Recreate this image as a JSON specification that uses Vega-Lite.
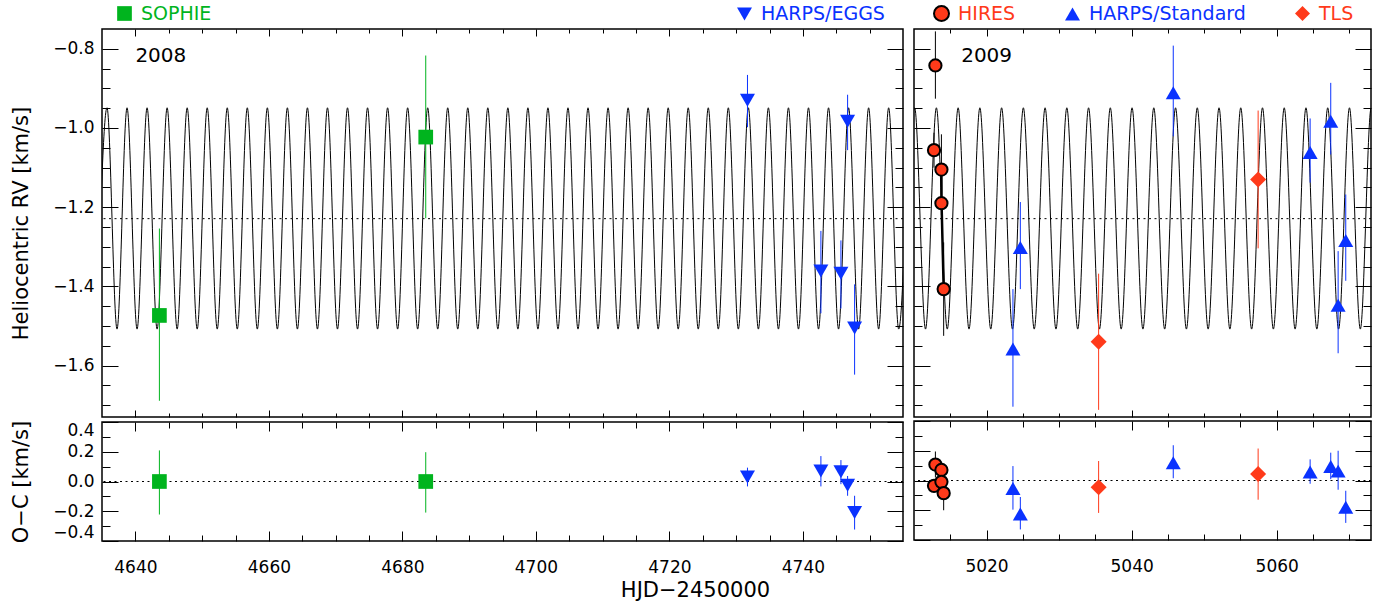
{
  "$schema": "https://vega.github.io/schema/vega-lite/v6.json",
  "background": "white",
  "padding": {"left": 9, "top": 4, "right": 10, "bottom": 4},
  "autosize": {"type": "pad"},
  "datasets": {
    "m08": [
      {"t":4634.249,"rv":-1.508},{"t":4635.750,"rv":-0.949},{"t":4637.251,"rv":-1.508},{"t":4638.753,"rv":-0.949},
      {"t":4640.254,"rv":-1.508},{"t":4641.755,"rv":-0.949},{"t":4643.256,"rv":-1.508},{"t":4644.758,"rv":-0.949},
      {"t":4646.259,"rv":-1.508},{"t":4647.760,"rv":-0.949},{"t":4649.262,"rv":-1.508},{"t":4650.763,"rv":-0.949},
      {"t":4652.264,"rv":-1.508},{"t":4653.766,"rv":-0.949},{"t":4655.267,"rv":-1.508},{"t":4656.768,"rv":-0.949},
      {"t":4658.269,"rv":-1.508},{"t":4659.771,"rv":-0.949},{"t":4661.272,"rv":-1.508},{"t":4662.773,"rv":-0.949},
      {"t":4664.275,"rv":-1.508},{"t":4665.776,"rv":-0.949},{"t":4667.277,"rv":-1.508},{"t":4668.779,"rv":-0.949},
      {"t":4670.280,"rv":-1.508},{"t":4671.781,"rv":-0.949},{"t":4673.282,"rv":-1.508},{"t":4674.784,"rv":-0.949},
      {"t":4676.285,"rv":-1.508},{"t":4677.786,"rv":-0.949},{"t":4679.288,"rv":-1.508},{"t":4680.789,"rv":-0.949},
      {"t":4682.290,"rv":-1.508},{"t":4683.792,"rv":-0.949},{"t":4685.293,"rv":-1.508},{"t":4686.794,"rv":-0.949},
      {"t":4688.295,"rv":-1.508},{"t":4689.797,"rv":-0.949},{"t":4691.298,"rv":-1.508},{"t":4692.799,"rv":-0.949},
      {"t":4694.301,"rv":-1.508},{"t":4695.802,"rv":-0.949},{"t":4697.303,"rv":-1.508},{"t":4698.805,"rv":-0.949},
      {"t":4700.306,"rv":-1.508},{"t":4701.807,"rv":-0.949},{"t":4703.308,"rv":-1.508},{"t":4704.810,"rv":-0.949},
      {"t":4706.311,"rv":-1.508},{"t":4707.812,"rv":-0.949},{"t":4709.314,"rv":-1.508},{"t":4710.815,"rv":-0.949},
      {"t":4712.316,"rv":-1.508},{"t":4713.818,"rv":-0.949},{"t":4715.319,"rv":-1.508},{"t":4716.820,"rv":-0.949},
      {"t":4718.321,"rv":-1.508},{"t":4719.823,"rv":-0.949},{"t":4721.324,"rv":-1.508},{"t":4722.825,"rv":-0.949},
      {"t":4724.327,"rv":-1.508},{"t":4725.828,"rv":-0.949},{"t":4727.329,"rv":-1.508},{"t":4728.831,"rv":-0.949},
      {"t":4730.332,"rv":-1.508},{"t":4731.833,"rv":-0.949},{"t":4733.334,"rv":-1.508},{"t":4734.836,"rv":-0.949},
      {"t":4736.337,"rv":-1.508},{"t":4737.838,"rv":-0.949},{"t":4739.340,"rv":-1.508},{"t":4740.841,"rv":-0.949},
      {"t":4742.342,"rv":-1.508},{"t":4743.844,"rv":-0.949},{"t":4745.345,"rv":-1.508},{"t":4746.846,"rv":-0.949},
      {"t":4748.347,"rv":-1.508},{"t":4749.849,"rv":-0.949},{"t":4751.350,"rv":-1.508},{"t":4752.851,"rv":-0.949},
      {"t":4754.352,"rv":-1.508},{"t":4755.854,"rv":-0.949}
    ],
    "m09": [
      {"t":5008.592,"rv":-1.508},{"t":5010.090,"rv":-0.949},{"t":5011.589,"rv":-1.508},{"t":5013.087,"rv":-0.949},
      {"t":5014.586,"rv":-1.508},{"t":5016.084,"rv":-0.949},{"t":5017.583,"rv":-1.508},{"t":5019.081,"rv":-0.949},
      {"t":5020.580,"rv":-1.508},{"t":5022.078,"rv":-0.949},{"t":5023.577,"rv":-1.508},{"t":5025.075,"rv":-0.949},
      {"t":5026.574,"rv":-1.508},{"t":5028.072,"rv":-0.949},{"t":5029.571,"rv":-1.508},{"t":5031.069,"rv":-0.949},
      {"t":5032.568,"rv":-1.508},{"t":5034.066,"rv":-0.949},{"t":5035.565,"rv":-1.508},{"t":5037.063,"rv":-0.949},
      {"t":5038.562,"rv":-1.508},{"t":5040.060,"rv":-0.949},{"t":5041.559,"rv":-1.508},{"t":5043.057,"rv":-0.949},
      {"t":5044.556,"rv":-1.508},{"t":5046.054,"rv":-0.949},{"t":5047.553,"rv":-1.508},{"t":5049.051,"rv":-0.949},
      {"t":5050.550,"rv":-1.508},{"t":5052.048,"rv":-0.949},{"t":5053.547,"rv":-1.508},{"t":5055.045,"rv":-0.949},
      {"t":5056.544,"rv":-1.508},{"t":5058.042,"rv":-0.949},{"t":5059.541,"rv":-1.508},{"t":5061.039,"rv":-0.949},
      {"t":5062.538,"rv":-1.508},{"t":5064.036,"rv":-0.949},{"t":5065.535,"rv":-1.508},{"t":5067.033,"rv":-0.949},
      {"t":5068.532,"rv":-1.508},{"t":5070.030,"rv":-0.949},{"t":5071.529,"rv":-1.508},{"t":5073.027,"rv":-0.949},
      {"t":5074.526,"rv":-1.508}
    ],
    "rm": [
      {"t":5013.78,"rv":-1.105},{"t":5013.80,"rv":-1.190},{"t":5014.09,"rv":-1.407}
    ],
    "o08": [
      {"t":4643.6,"rv":-1.4735,"rv_lo":-1.689,"rv_hi":-1.254,"oc":0.0,"oc_lo":-0.222,"oc_hi":0.209,"inst":"SOPHIE"},
      {"t":4683.5,"rv":-1.023,"rv_lo":-1.228,"rv_hi":-0.817,"oc":0.0,"oc_lo":-0.209,"oc_hi":0.197,"inst":"SOPHIE"},
      {"t":4731.7,"rv":-0.930,"rv_lo":-0.998,"rv_hi":-0.866,"oc":0.03,"oc_lo":-0.033,"oc_hi":0.093,"inst":"HARPS/EGGS"},
      {"t":4742.7,"rv":-1.361,"rv_lo":-1.468,"rv_hi":-1.260,"oc":0.07,"oc_lo":-0.033,"oc_hi":0.171,"inst":"HARPS/EGGS"},
      {"t":4745.7,"rv":-1.367,"rv_lo":-1.456,"rv_hi":-1.284,"oc":0.065,"oc_lo":-0.018,"oc_hi":0.144,"inst":"HARPS/EGGS"},
      {"t":4746.7,"rv":-0.983,"rv_lo":-1.056,"rv_hi":-0.916,"oc":-0.025,"oc_lo":-0.096,"oc_hi":0.037,"inst":"HARPS/EGGS"},
      {"t":4747.75,"rv":-1.505,"rv_lo":-1.623,"rv_hi":-1.395,"oc":-0.208,"oc_lo":-0.323,"oc_hi":-0.096,"inst":"HARPS/EGGS"}
    ],
    "o09": [
      {"t":5012.95,"rv":-0.842,"rv_lo":-0.926,"rv_hi":-0.756,"oc":0.107,"oc_lo":0.02,"oc_hi":0.195,"inst":"HIRES"},
      {"t":5012.76,"rv":-1.056,"rv_lo":-1.10,"rv_hi":-1.012,"oc":-0.036,"oc_lo":-0.07,"oc_hi":0.0,"inst":"HIRES"},
      {"t":5013.78,"rv":-1.105,"rv_lo":-1.15,"rv_hi":-1.016,"oc":0.071,"oc_lo":0.03,"oc_hi":0.11,"inst":"HIRES"},
      {"t":5013.78,"rv":-1.190,"rv_lo":-1.22,"rv_hi":-1.16,"oc":-0.009,"oc_lo":-0.04,"oc_hi":0.02,"inst":"HIRES"},
      {"t":5014.09,"rv":-1.407,"rv_lo":-1.525,"rv_hi":-1.289,"oc":-0.085,"oc_lo":-0.2,"oc_hi":0.03,"inst":"HIRES"},
      {"t":5023.64,"rv":-1.558,"rv_lo":-1.704,"rv_hi":-1.407,"oc":-0.053,"oc_lo":-0.196,"oc_hi":0.097,"inst":"HARPS/Standard"},
      {"t":5024.66,"rv":-1.302,"rv_lo":-1.407,"rv_hi":-1.187,"oc":-0.225,"oc_lo":-0.329,"oc_hi":-0.111,"inst":"HARPS/Standard"},
      {"t":5045.74,"rv":-0.911,"rv_lo":-1.021,"rv_hi":-0.792,"oc":0.12,"oc_lo":0.015,"oc_hi":0.237,"inst":"HARPS/Standard"},
      {"t":5064.61,"rv":-1.062,"rv_lo":-1.138,"rv_hi":-0.976,"oc":0.057,"oc_lo":-0.022,"oc_hi":0.142,"inst":"HARPS/Standard"},
      {"t":5067.45,"rv":-0.983,"rv_lo":-1.067,"rv_hi":-0.886,"oc":0.094,"oc_lo":0.009,"oc_hi":0.187,"inst":"HARPS/Standard"},
      {"t":5068.47,"rv":-1.448,"rv_lo":-1.569,"rv_hi":-1.311,"oc":0.063,"oc_lo":-0.062,"oc_hi":0.2,"inst":"HARPS/Standard"},
      {"t":5069.52,"rv":-1.284,"rv_lo":-1.386,"rv_hi":-1.168,"oc":-0.18,"oc_lo":-0.285,"oc_hi":-0.069,"inst":"HARPS/Standard"},
      {"t":5035.45,"rv":-1.540,"rv_lo":-1.712,"rv_hi":-1.368,"oc":-0.045,"oc_lo":-0.218,"oc_hi":0.131,"inst":"TLS"},
      {"t":5057.44,"rv":-1.130,"rv_lo":-1.304,"rv_hi":-0.956,"oc":0.043,"oc_lo":-0.129,"oc_hi":0.215,"inst":"TLS"}
    ]
  },
  "hconcat": [
    {
      "spacing": 0,
      "vconcat": [
        {
          "width": 801, "height": 388,
          "resolve": {"axis": {"x": "independent", "y": "independent"}},
          "layer": [
            {
              "data": {"name": "m08"},
              "mark": {"type": "line", "interpolate": "monotone", "color": "black", "strokeWidth": 1, "clip": true},
              "encoding": {
                "x": {"field": "t", "type": "quantitative", "scale": {"domain": [4635, 4755], "nice": false, "zero": false},
                      "axis": {"orient": "bottom", "values": [4640,4645,4650,4655,4660,4665,4670,4675,4680,4685,4690,4695,4700,4705,4710,4715,4720,4725,4730,4735,4740,4745,4750],
                               "tickSize": {"condition": {"test": "datum.value % 20 === 0", "value": -7}, "value": -4}, "labels": false, "title": null}},
                "y": {"field": "rv", "type": "quantitative", "scale": {"domain": [-1.73, -0.75], "nice": false, "zero": false},
                      "axis": {"orient": "left", "values": [-1.7,-1.65,-1.6,-1.55,-1.5,-1.45,-1.4,-1.35,-1.3,-1.25,-1.2,-1.15,-1.1,-1.05,-1.0,-0.95,-0.9,-0.85,-0.8],
                               "tickSize": {"condition": {"test": "abs(round(datum.value*20)) % 4 === 0", "value": -16}, "value": -8},
                               "format": ".1f", "labelExpr": "abs(round(datum.value*20)) % 4 === 0 ? datum.label : ''",
                               "labelPadding": 24, "labelFlush": false,
                               "title": "Heliocentric RV [km/s]", "titleX": -81, "titleY": 194, "titleAlign": "center", "titleBaseline": "middle"}}
              }
            },
            {
              "data": {"values": [{}]},
              "mark": {"type": "rule", "strokeDash": [2, 3.5], "color": "black", "strokeWidth": 1},
              "encoding": {"y": {"datum": -1.229, "type": "quantitative", "scale": {"domain": [-1.73, -0.75], "nice": false, "zero": false}, "axis": null}}
            },
            {
              "data": {"name": "o08"},
              "mark": {"type": "rule", "strokeWidth": 1},
              "encoding": {
                "x": {"field": "t", "type": "quantitative", "scale": {"domain": [4635, 4755], "nice": false, "zero": false},
                      "axis": {"orient": "top", "values": [4640,4645,4650,4655,4660,4665,4670,4675,4680,4685,4690,4695,4700,4705,4710,4715,4720,4725,4730,4735,4740,4745,4750],
                               "tickSize": {"condition": {"test": "datum.value % 20 === 0", "value": -7}, "value": -4}, "labels": false, "title": null}},
                "y": {"field": "rv_lo", "type": "quantitative", "scale": {"domain": [-1.73, -0.75], "nice": false, "zero": false},
                      "axis": {"orient": "right", "values": [-1.7,-1.65,-1.6,-1.55,-1.5,-1.45,-1.4,-1.35,-1.3,-1.25,-1.2,-1.15,-1.1,-1.05,-1.0,-0.95,-0.9,-0.85,-0.8],
                               "tickSize": {"condition": {"test": "abs(round(datum.value*20)) % 4 === 0", "value": -16}, "value": -8}, "labels": false, "title": null}},
                "y2": {"field": "rv_hi"},
                "stroke": {"field": "inst", "type": "nominal", "scale": {"domain": ["TLS","SOPHIE","HARPS/EGGS","HIRES","HARPS/Standard"], "range": ["#ff3a1a","#00b41e","#0a32ff","#000000","#0a32ff"]}, "legend": null}
              }
            },
            {
              "data": {"name": "o08"},
              "transform": [{"filter": "datum.inst !== 'HIRES'"}],
              "mark": {"type": "point", "filled": true, "opacity": 1},
              "encoding": {
                "x": {"field": "t", "type": "quantitative", "scale": {"domain": [4635, 4755], "nice": false, "zero": false}, "axis": null},
                "y": {"field": "rv", "type": "quantitative", "scale": {"domain": [-1.73, -0.75], "nice": false, "zero": false}, "axis": null},
                "color": {"field": "inst", "type": "nominal", "scale": {"domain": ["SOPHIE","HARPS/EGGS","HIRES","HARPS/Standard","TLS"], "range": ["#00b41e","#0a32ff","#ff3a1a","#0a32ff","#ff3a1a"]},
                          "legend": {"orient": "none", "legendX": 633, "legendY": -25, "direction": "horizontal", "title": null,
                                     "values": ["HARPS/EGGS","HIRES","HARPS/Standard","TLS"], "symbolSize": 225, "symbolOpacity": 1, "symbolStrokeWidth": 2,
                                     "symbolFillColor": {"expr": "(datum.value === 'HIRES' || datum.value === 'TLS') ? '#ff3a1a' : '#0a32ff'"},
                                     "symbolStrokeColor": {"expr": "datum.value === 'HIRES' ? '#000000' : 'transparent'"},
                                     "labelOffset": 7, "columnPadding": 45, "labelFont": "DejaVu Sans", "labelFontSize": 19,
                                     "labelColor": {"expr": "(datum.value === 'HIRES' || datum.value === 'TLS') ? '#ff3a1a' : '#0a32ff'"}}},
                "fill": {"field": "inst", "type": "nominal", "scale": {"domain": ["HIRES","SOPHIE","HARPS/EGGS","HARPS/Standard","TLS"], "range": ["#ff3a1a","#00b41e","#0a32ff","#0a32ff","#ff3a1a"]},
                         "legend": {"orient": "none", "legendX": 13, "legendY": -25, "direction": "horizontal", "title": null,
                                    "values": ["SOPHIE"], "symbolType": "square", "symbolSize": 216, "symbolStrokeWidth": 0, "symbolOpacity": 1,
                                    "labelOffset": 7, "labelFont": "DejaVu Sans", "labelFontSize": 19, "labelColor": "#00b41e"}},
                "shape": {"field": "inst", "type": "nominal", "scale": {"domain": ["SOPHIE","HARPS/EGGS","HIRES","HARPS/Standard","TLS"], "range": ["square","triangle-down","circle","triangle-up","diamond"]},
                          "legend": {"orient": "none", "legendX": 633, "legendY": -25, "direction": "horizontal", "title": null,
                                     "values": ["HARPS/EGGS","HIRES","HARPS/Standard","TLS"], "symbolSize": 225, "symbolOpacity": 1, "symbolStrokeWidth": 2,
                                     "symbolFillColor": {"expr": "(datum.value === 'HIRES' || datum.value === 'TLS') ? '#ff3a1a' : '#0a32ff'"},
                                     "symbolStrokeColor": {"expr": "datum.value === 'HIRES' ? '#000000' : 'transparent'"},
                                     "labelOffset": 7, "columnPadding": 45, "labelFont": "DejaVu Sans", "labelFontSize": 19,
                                     "labelColor": {"expr": "(datum.value === 'HIRES' || datum.value === 'TLS') ? '#ff3a1a' : '#0a32ff'"}}},
                "size": {"condition": [{"test": "datum.inst === 'TLS'", "value": 256}, {"test": "datum.inst === 'SOPHIE'", "value": 216}], "value": 225}
              }
            },
            {
              "data": {"values": [{"t": 4640, "rv": -0.833, "label": "2008"}]},
              "mark": {"type": "text", "align": "left", "baseline": "alphabetic", "fontSize": 20, "font": "DejaVu Sans", "color": "black"},
              "encoding": {
                "x": {"field": "t", "type": "quantitative", "scale": {"domain": [4635, 4755], "nice": false, "zero": false}, "axis": null},
                "y": {"field": "rv", "type": "quantitative", "scale": {"domain": [-1.73, -0.75], "nice": false, "zero": false}, "axis": null},
                "text": {"field": "label"}
              }
            }
          ]
        },
        {
          "width": 801, "height": 119,
          "resolve": {"axis": {"x": "independent", "y": "independent"}},
          "layer": [
            {
              "data": {"values": [{}]},
              "mark": {"type": "rule", "strokeDash": [2, 3.5], "color": "black", "strokeWidth": 1},
              "encoding": {"y": {"datum": 0, "type": "quantitative", "scale": {"domain": [-0.4, 0.4], "nice": false, "zero": false},
                      "axis": {"orient": "left", "values": [-0.4,-0.3,-0.2,-0.1,0,0.1,0.2,0.3,0.4],
                               "tickSize": {"condition": {"test": "abs(round(datum.value*10)) % 2 === 0", "value": -16}, "value": -8},
                               "format": ".1f", "labelExpr": "abs(round(datum.value*10)) % 2 === 0 ? datum.label : ''",
                               "labelPadding": 24, "labelFlush": true,
                               "title": "O−C [km/s]", "titleX": -81, "titleY": 59.5, "titleAlign": "center", "titleBaseline": "middle"}}}
            },
            {
              "data": {"name": "o08"},
              "mark": {"type": "rule", "strokeWidth": 1},
              "encoding": {
                "x": {"field": "t", "type": "quantitative", "scale": {"domain": [4635, 4755], "nice": false, "zero": false},
                      "axis": {"orient": "bottom", "values": [4640,4645,4650,4655,4660,4665,4670,4675,4680,4685,4690,4695,4700,4705,4710,4715,4720,4725,4730,4735,4740,4745,4750],
                               "tickSize": {"condition": {"test": "datum.value % 20 === 0", "value": -10}, "value": -6},
                               "format": "d", "labelExpr": "datum.value % 20 === 0 ? datum.label : ''", "labelPadding": 28, "labelFlush": false,
                               "title": "HJD−2450000", "titleX": 593, "titleY": 55, "titleAlign": "center", "titleBaseline": "alphabetic"}},
                "y": {"field": "oc_lo", "type": "quantitative", "scale": {"domain": [-0.4, 0.4], "nice": false, "zero": false},
                      "axis": {"orient": "right", "values": [-0.4,-0.3,-0.2,-0.1,0,0.1,0.2,0.3,0.4],
                               "tickSize": {"condition": {"test": "abs(round(datum.value*10)) % 2 === 0", "value": -16}, "value": -8}, "labels": false, "title": null}},
                "y2": {"field": "oc_hi"},
                "stroke": {"field": "inst", "type": "nominal", "scale": {"domain": ["TLS","SOPHIE","HARPS/EGGS","HIRES","HARPS/Standard"], "range": ["#ff3a1a","#00b41e","#0a32ff","#000000","#0a32ff"]}, "legend": null}
              }
            },
            {
              "data": {"name": "o08"},
              "transform": [{"filter": "datum.inst !== 'HIRES'"}],
              "mark": {"type": "point", "filled": true, "opacity": 1},
              "encoding": {
                "x": {"field": "t", "type": "quantitative", "scale": {"domain": [4635, 4755], "nice": false, "zero": false},
                      "axis": {"orient": "top", "values": [4640,4645,4650,4655,4660,4665,4670,4675,4680,4685,4690,4695,4700,4705,4710,4715,4720,4725,4730,4735,4740,4745,4750],
                               "tickSize": {"condition": {"test": "datum.value % 20 === 0", "value": -9}, "value": -6}, "labels": false, "title": null}},
                "y": {"field": "oc", "type": "quantitative", "scale": {"domain": [-0.4, 0.4], "nice": false, "zero": false}, "axis": null},
                "color": {"field": "inst", "type": "nominal", "scale": {"domain": ["SOPHIE","HARPS/EGGS","HIRES","HARPS/Standard","TLS"], "range": ["#00b41e","#0a32ff","#ff3a1a","#0a32ff","#ff3a1a"]},
                          "legend": {"orient": "none", "legendX": 633, "legendY": -25, "direction": "horizontal", "title": null,
                                     "values": ["HARPS/EGGS","HIRES","HARPS/Standard","TLS"], "symbolSize": 225, "symbolOpacity": 1, "symbolStrokeWidth": 2,
                                     "symbolFillColor": {"expr": "(datum.value === 'HIRES' || datum.value === 'TLS') ? '#ff3a1a' : '#0a32ff'"},
                                     "symbolStrokeColor": {"expr": "datum.value === 'HIRES' ? '#000000' : 'transparent'"},
                                     "labelOffset": 7, "columnPadding": 45, "labelFont": "DejaVu Sans", "labelFontSize": 19,
                                     "labelColor": {"expr": "(datum.value === 'HIRES' || datum.value === 'TLS') ? '#ff3a1a' : '#0a32ff'"}}},
                "fill": {"field": "inst", "type": "nominal", "scale": {"domain": ["HIRES","SOPHIE","HARPS/EGGS","HARPS/Standard","TLS"], "range": ["#ff3a1a","#00b41e","#0a32ff","#0a32ff","#ff3a1a"]},
                         "legend": {"orient": "none", "legendX": 13, "legendY": -25, "direction": "horizontal", "title": null,
                                    "values": ["SOPHIE"], "symbolType": "square", "symbolSize": 216, "symbolStrokeWidth": 0, "symbolOpacity": 1,
                                    "labelOffset": 7, "labelFont": "DejaVu Sans", "labelFontSize": 19, "labelColor": "#00b41e"}},
                "shape": {"field": "inst", "type": "nominal", "scale": {"domain": ["SOPHIE","HARPS/EGGS","HIRES","HARPS/Standard","TLS"], "range": ["square","triangle-down","circle","triangle-up","diamond"]},
                          "legend": {"orient": "none", "legendX": 633, "legendY": -25, "direction": "horizontal", "title": null,
                                     "values": ["HARPS/EGGS","HIRES","HARPS/Standard","TLS"], "symbolSize": 225, "symbolOpacity": 1, "symbolStrokeWidth": 2,
                                     "symbolFillColor": {"expr": "(datum.value === 'HIRES' || datum.value === 'TLS') ? '#ff3a1a' : '#0a32ff'"},
                                     "symbolStrokeColor": {"expr": "datum.value === 'HIRES' ? '#000000' : 'transparent'"},
                                     "labelOffset": 7, "columnPadding": 45, "labelFont": "DejaVu Sans", "labelFontSize": 19,
                                     "labelColor": {"expr": "(datum.value === 'HIRES' || datum.value === 'TLS') ? '#ff3a1a' : '#0a32ff'"}}},
                "size": {"condition": [{"test": "datum.inst === 'TLS'", "value": 256}, {"test": "datum.inst === 'SOPHIE'", "value": 216}], "value": 225}
              }
            }
          ]
        }
      ]
    },
    {
      "spacing": 0,
      "vconcat": [
        {
          "width": 457, "height": 388,
          "resolve": {"axis": {"x": "independent", "y": "independent"}},
          "layer": [
            {
              "data": {"name": "m09"},
              "mark": {"type": "line", "interpolate": "monotone", "color": "black", "strokeWidth": 1, "clip": true},
              "encoding": {
                "x": {"field": "t", "type": "quantitative", "scale": {"domain": [5010, 5073], "nice": false, "zero": false},
                      "axis": {"orient": "bottom", "values": [5015,5020,5025,5030,5035,5040,5045,5050,5055,5060,5065,5070],
                               "tickSize": {"condition": {"test": "datum.value % 20 === 0", "value": -7}, "value": -4}, "labels": false, "title": null}},
                "y": {"field": "rv", "type": "quantitative", "scale": {"domain": [-1.73, -0.75], "nice": false, "zero": false},
                      "axis": {"orient": "left", "values": [-1.7,-1.65,-1.6,-1.55,-1.5,-1.45,-1.4,-1.35,-1.3,-1.25,-1.2,-1.15,-1.1,-1.05,-1.0,-0.95,-0.9,-0.85,-0.8],
                               "tickSize": {"condition": {"test": "abs(round(datum.value*20)) % 4 === 0", "value": -16}, "value": -8}, "labels": false, "title": null}}
              }
            },
            {
              "data": {"values": [{}]},
              "mark": {"type": "rule", "strokeDash": [2, 3.5], "color": "black", "strokeWidth": 1},
              "encoding": {"y": {"datum": -1.229, "type": "quantitative", "scale": {"domain": [-1.73, -0.75], "nice": false, "zero": false}, "axis": null}}
            },
            {
              "data": {"name": "o09"},
              "mark": {"type": "rule", "strokeWidth": 1},
              "encoding": {
                "x": {"field": "t", "type": "quantitative", "scale": {"domain": [5010, 5073], "nice": false, "zero": false},
                      "axis": {"orient": "top", "values": [5015,5020,5025,5030,5035,5040,5045,5050,5055,5060,5065,5070],
                               "tickSize": {"condition": {"test": "datum.value % 20 === 0", "value": -7}, "value": -4}, "labels": false, "title": null}},
                "y": {"field": "rv_lo", "type": "quantitative", "scale": {"domain": [-1.73, -0.75], "nice": false, "zero": false},
                      "axis": {"orient": "right", "values": [-1.7,-1.65,-1.6,-1.55,-1.5,-1.45,-1.4,-1.35,-1.3,-1.25,-1.2,-1.15,-1.1,-1.05,-1.0,-0.95,-0.9,-0.85,-0.8],
                               "tickSize": {"condition": {"test": "abs(round(datum.value*20)) % 4 === 0", "value": -16}, "value": -8}, "labels": false, "title": null}},
                "y2": {"field": "rv_hi"},
                "stroke": {"field": "inst", "type": "nominal", "scale": {"domain": ["TLS","SOPHIE","HARPS/EGGS","HIRES","HARPS/Standard"], "range": ["#ff3a1a","#00b41e","#0a32ff","#000000","#0a32ff"]}, "legend": null}
              }
            },
            {
              "data": {"name": "rm"},
              "mark": {"type": "line", "color": "black", "strokeWidth": 2.5},
              "encoding": {
                "x": {"field": "t", "type": "quantitative", "scale": {"domain": [5010, 5073], "nice": false, "zero": false}, "axis": null},
                "y": {"field": "rv", "type": "quantitative", "scale": {"domain": [-1.73, -0.75], "nice": false, "zero": false}, "axis": null}
              }
            },
            {
              "data": {"name": "o09"},
              "transform": [{"filter": "datum.inst !== 'HIRES'"}],
              "mark": {"type": "point", "filled": true, "opacity": 1},
              "encoding": {
                "x": {"field": "t", "type": "quantitative", "scale": {"domain": [5010, 5073], "nice": false, "zero": false}, "axis": null},
                "y": {"field": "rv", "type": "quantitative", "scale": {"domain": [-1.73, -0.75], "nice": false, "zero": false}, "axis": null},
                "color": {"field": "inst", "type": "nominal", "scale": {"domain": ["SOPHIE","HARPS/EGGS","HIRES","HARPS/Standard","TLS"], "range": ["#00b41e","#0a32ff","#ff3a1a","#0a32ff","#ff3a1a"]},
                          "legend": {"orient": "none", "legendX": 633, "legendY": -25, "direction": "horizontal", "title": null,
                                     "values": ["HARPS/EGGS","HIRES","HARPS/Standard","TLS"], "symbolSize": 225, "symbolOpacity": 1, "symbolStrokeWidth": 2,
                                     "symbolFillColor": {"expr": "(datum.value === 'HIRES' || datum.value === 'TLS') ? '#ff3a1a' : '#0a32ff'"},
                                     "symbolStrokeColor": {"expr": "datum.value === 'HIRES' ? '#000000' : 'transparent'"},
                                     "labelOffset": 7, "columnPadding": 45, "labelFont": "DejaVu Sans", "labelFontSize": 19,
                                     "labelColor": {"expr": "(datum.value === 'HIRES' || datum.value === 'TLS') ? '#ff3a1a' : '#0a32ff'"}}},
                "fill": {"field": "inst", "type": "nominal", "scale": {"domain": ["HIRES","SOPHIE","HARPS/EGGS","HARPS/Standard","TLS"], "range": ["#ff3a1a","#00b41e","#0a32ff","#0a32ff","#ff3a1a"]},
                         "legend": {"orient": "none", "legendX": 13, "legendY": -25, "direction": "horizontal", "title": null,
                                    "values": ["SOPHIE"], "symbolType": "square", "symbolSize": 216, "symbolStrokeWidth": 0, "symbolOpacity": 1,
                                    "labelOffset": 7, "labelFont": "DejaVu Sans", "labelFontSize": 19, "labelColor": "#00b41e"}},
                "shape": {"field": "inst", "type": "nominal", "scale": {"domain": ["SOPHIE","HARPS/EGGS","HIRES","HARPS/Standard","TLS"], "range": ["square","triangle-down","circle","triangle-up","diamond"]},
                          "legend": {"orient": "none", "legendX": 633, "legendY": -25, "direction": "horizontal", "title": null,
                                     "values": ["HARPS/EGGS","HIRES","HARPS/Standard","TLS"], "symbolSize": 225, "symbolOpacity": 1, "symbolStrokeWidth": 2,
                                     "symbolFillColor": {"expr": "(datum.value === 'HIRES' || datum.value === 'TLS') ? '#ff3a1a' : '#0a32ff'"},
                                     "symbolStrokeColor": {"expr": "datum.value === 'HIRES' ? '#000000' : 'transparent'"},
                                     "labelOffset": 7, "columnPadding": 45, "labelFont": "DejaVu Sans", "labelFontSize": 19,
                                     "labelColor": {"expr": "(datum.value === 'HIRES' || datum.value === 'TLS') ? '#ff3a1a' : '#0a32ff'"}}},
                "size": {"condition": [{"test": "datum.inst === 'TLS'", "value": 256}, {"test": "datum.inst === 'SOPHIE'", "value": 216}], "value": 225}
              }
            },
            {
              "data": {"name": "o09"},
              "transform": [{"filter": "datum.inst === 'HIRES'"}],
              "mark": {"type": "point", "shape": "circle", "filled": true, "opacity": 1, "fill": "#ff3a1a", "stroke": "#000000", "strokeWidth": 2, "size": 150},
              "encoding": {
                "x": {"field": "t", "type": "quantitative", "scale": {"domain": [5010, 5073], "nice": false, "zero": false}, "axis": null},
                "y": {"field": "rv", "type": "quantitative", "scale": {"domain": [-1.73, -0.75], "nice": false, "zero": false}, "axis": null}
              }
            },
            {
              "data": {"values": [{"t": 5016.5, "rv": -0.833, "label": "2009"}]},
              "mark": {"type": "text", "align": "left", "baseline": "alphabetic", "fontSize": 20, "font": "DejaVu Sans", "color": "black"},
              "encoding": {
                "x": {"field": "t", "type": "quantitative", "scale": {"domain": [5010, 5073], "nice": false, "zero": false}, "axis": null},
                "y": {"field": "rv", "type": "quantitative", "scale": {"domain": [-1.73, -0.75], "nice": false, "zero": false}, "axis": null},
                "text": {"field": "label"}
              }
            }
          ]
        },
        {
          "width": 457, "height": 119,
          "resolve": {"axis": {"x": "independent", "y": "independent"}},
          "layer": [
            {
              "data": {"values": [{}]},
              "mark": {"type": "rule", "strokeDash": [2, 3.5], "color": "black", "strokeWidth": 1},
              "encoding": {"y": {"datum": 0, "type": "quantitative", "scale": {"domain": [-0.4, 0.4], "nice": false, "zero": false},
                      "axis": {"orient": "left", "values": [-0.4,-0.3,-0.2,-0.1,0,0.1,0.2,0.3,0.4],
                               "tickSize": {"condition": {"test": "abs(round(datum.value*10)) % 2 === 0", "value": -16}, "value": -8}, "labels": false, "title": null}}}
            },
            {
              "data": {"name": "o09"},
              "mark": {"type": "rule", "strokeWidth": 1},
              "encoding": {
                "x": {"field": "t", "type": "quantitative", "scale": {"domain": [5010, 5073], "nice": false, "zero": false},
                      "axis": {"orient": "bottom", "values": [5015,5020,5025,5030,5035,5040,5045,5050,5055,5060,5065,5070],
                               "tickSize": {"condition": {"test": "datum.value % 20 === 0", "value": -10}, "value": -6},
                               "format": "d", "labelExpr": "datum.value % 20 === 0 ? datum.label : ''", "labelPadding": 28, "labelFlush": false, "title": null}},
                "y": {"field": "oc_lo", "type": "quantitative", "scale": {"domain": [-0.4, 0.4], "nice": false, "zero": false},
                      "axis": {"orient": "right", "values": [-0.4,-0.3,-0.2,-0.1,0,0.1,0.2,0.3,0.4],
                               "tickSize": {"condition": {"test": "abs(round(datum.value*10)) % 2 === 0", "value": -16}, "value": -8}, "labels": false, "title": null}},
                "y2": {"field": "oc_hi"},
                "stroke": {"field": "inst", "type": "nominal", "scale": {"domain": ["TLS","SOPHIE","HARPS/EGGS","HIRES","HARPS/Standard"], "range": ["#ff3a1a","#00b41e","#0a32ff","#000000","#0a32ff"]}, "legend": null}
              }
            },
            {
              "data": {"name": "o09"},
              "transform": [{"filter": "datum.inst !== 'HIRES'"}],
              "mark": {"type": "point", "filled": true, "opacity": 1},
              "encoding": {
                "x": {"field": "t", "type": "quantitative", "scale": {"domain": [5010, 5073], "nice": false, "zero": false},
                      "axis": {"orient": "top", "values": [5015,5020,5025,5030,5035,5040,5045,5050,5055,5060,5065,5070],
                               "tickSize": {"condition": {"test": "datum.value % 20 === 0", "value": -9}, "value": -6}, "labels": false, "title": null}},
                "y": {"field": "oc", "type": "quantitative", "scale": {"domain": [-0.4, 0.4], "nice": false, "zero": false}, "axis": null},
                "color": {"field": "inst", "type": "nominal", "scale": {"domain": ["SOPHIE","HARPS/EGGS","HIRES","HARPS/Standard","TLS"], "range": ["#00b41e","#0a32ff","#ff3a1a","#0a32ff","#ff3a1a"]},
                          "legend": {"orient": "none", "legendX": 633, "legendY": -25, "direction": "horizontal", "title": null,
                                     "values": ["HARPS/EGGS","HIRES","HARPS/Standard","TLS"], "symbolSize": 225, "symbolOpacity": 1, "symbolStrokeWidth": 2,
                                     "symbolFillColor": {"expr": "(datum.value === 'HIRES' || datum.value === 'TLS') ? '#ff3a1a' : '#0a32ff'"},
                                     "symbolStrokeColor": {"expr": "datum.value === 'HIRES' ? '#000000' : 'transparent'"},
                                     "labelOffset": 7, "columnPadding": 45, "labelFont": "DejaVu Sans", "labelFontSize": 19,
                                     "labelColor": {"expr": "(datum.value === 'HIRES' || datum.value === 'TLS') ? '#ff3a1a' : '#0a32ff'"}}},
                "fill": {"field": "inst", "type": "nominal", "scale": {"domain": ["HIRES","SOPHIE","HARPS/EGGS","HARPS/Standard","TLS"], "range": ["#ff3a1a","#00b41e","#0a32ff","#0a32ff","#ff3a1a"]},
                         "legend": {"orient": "none", "legendX": 13, "legendY": -25, "direction": "horizontal", "title": null,
                                    "values": ["SOPHIE"], "symbolType": "square", "symbolSize": 216, "symbolStrokeWidth": 0, "symbolOpacity": 1,
                                    "labelOffset": 7, "labelFont": "DejaVu Sans", "labelFontSize": 19, "labelColor": "#00b41e"}},
                "shape": {"field": "inst", "type": "nominal", "scale": {"domain": ["SOPHIE","HARPS/EGGS","HIRES","HARPS/Standard","TLS"], "range": ["square","triangle-down","circle","triangle-up","diamond"]},
                          "legend": {"orient": "none", "legendX": 633, "legendY": -25, "direction": "horizontal", "title": null,
                                     "values": ["HARPS/EGGS","HIRES","HARPS/Standard","TLS"], "symbolSize": 225, "symbolOpacity": 1, "symbolStrokeWidth": 2,
                                     "symbolFillColor": {"expr": "(datum.value === 'HIRES' || datum.value === 'TLS') ? '#ff3a1a' : '#0a32ff'"},
                                     "symbolStrokeColor": {"expr": "datum.value === 'HIRES' ? '#000000' : 'transparent'"},
                                     "labelOffset": 7, "columnPadding": 45, "labelFont": "DejaVu Sans", "labelFontSize": 19,
                                     "labelColor": {"expr": "(datum.value === 'HIRES' || datum.value === 'TLS') ? '#ff3a1a' : '#0a32ff'"}}},
                "size": {"condition": [{"test": "datum.inst === 'TLS'", "value": 256}, {"test": "datum.inst === 'SOPHIE'", "value": 216}], "value": 225}
              }
            },
            {
              "data": {"name": "o09"},
              "transform": [{"filter": "datum.inst === 'HIRES'"}],
              "mark": {"type": "point", "shape": "circle", "filled": true, "opacity": 1, "fill": "#ff3a1a", "stroke": "#000000", "strokeWidth": 2, "size": 150},
              "encoding": {
                "x": {"field": "t", "type": "quantitative", "scale": {"domain": [5010, 5073], "nice": false, "zero": false}, "axis": null},
                "y": {"field": "oc", "type": "quantitative", "scale": {"domain": [-0.4, 0.4], "nice": false, "zero": false}, "axis": null}
              }
            }
          ]
        }
      ]
    }
  ],
  "spacing": 7,
  "resolve": {"scale": {"color": "shared", "shape": "shared", "stroke": "shared", "fill": "shared"}},
  "config": {
    "view": {"stroke": "black", "strokeWidth": 1.5},
    "axis": {"domain": false, "grid": false, "tickColor": "black", "tickWidth": 1,
             "labelFont": "DejaVu Sans", "labelFontSize": 17, "labelColor": "black",
             "titleFont": "DejaVu Sans", "titleFontSize": 21, "titleFontWeight": "normal", "titleColor": "black"},
    "legend": {"labelFont": "DejaVu Sans", "labelFontSize": 19},
    "text": {"font": "DejaVu Sans"}
  }
}
